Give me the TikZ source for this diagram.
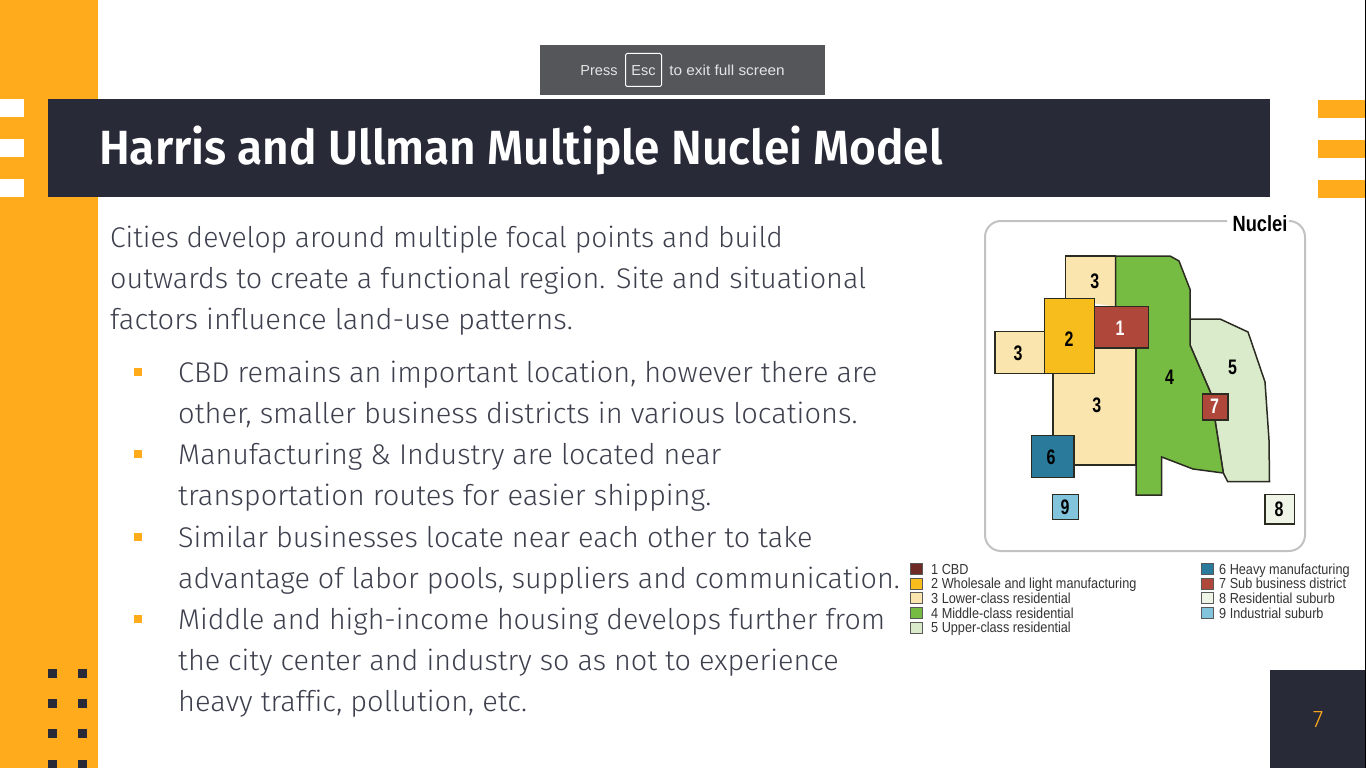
\documentclass[tikz,border=0pt]{standalone}
\usepackage{fontspec}
\setmainfont[Ligatures=NoCommon]{Fira Sans Light}
\newfontfamily\titlefont{Fira Sans SemiBold}
\newfontfamily\armfont{Liberation Sans}
\definecolor{amber}{HTML}{FFAB1C}
\definecolor{navy}{HTML}{282A38}
\definecolor{bodyink}{HTML}{3D3F4D}
\definecolor{barink}{HTML}{54565A}
\definecolor{cbd}{HTML}{6F2B25}
\definecolor{wholesale}{HTML}{F6BD1C}
\definecolor{lower}{HTML}{FBE5AE}
\definecolor{middle}{HTML}{76BC43}
\definecolor{upper}{HTML}{DAEBCB}
\definecolor{heavy}{HTML}{2A7B9B}
\definecolor{subbiz}{HTML}{B0473B}
\definecolor{suburb}{HTML}{EFF5E6}
\definecolor{indust}{HTML}{82C4DC}
\definecolor{edge}{HTML}{2B2B22}
\tikzset{
  bodyline/.style={anchor=base west,inner sep=0pt,text=bodyink,font=\fontsize{28.5}{30}\selectfont},
  region/.style={draw=edge,line width=1.5pt,line join=miter},
  digit/.style={inner sep=0pt,font=\armfont\bfseries\fontsize{21}{21}\selectfont,xscale=.76},
  swatch/.style={draw=black!65,line width=.9pt},
  keytext/.style={anchor=base west,inner sep=0pt,text=black!80,font=\armfont\fontsize{14.5}{15}\selectfont,xscale=.875},
  chrometext/.style={anchor=base,inner sep=0pt,text=white!90!black,font=\armfont\fontsize{14.5}{15}\selectfont},
}
\begin{document}
\begin{tikzpicture}[x=1pt,y=-1pt]
\useasboundingbox (0,0) rectangle (1366,768);
% page furniture
\fill [amber] (0,0) rectangle (97.5,768);
\foreach \y in {99,139,179} \fill [white] (0,\y) rectangle (23.5,\y+17.5);
\foreach \y in {100,140,180} \fill [amber] (1318,\y) rectangle (1366,\y+17.5);
\fill [navy] (48,99) rectangle (1270,196.5);
\fill [navy] (1269.5,670) rectangle (1366,768);
\fill [black] (1365,0) rectangle (1366,768);
\foreach \y in {669,699,729,760} {
  \fill [navy] (48,\y) rectangle (57,\y+9);
  \fill [navy] (78.3,\y) rectangle (87.3,\y+9);
}
\node [anchor=base west,inner sep=0pt,text=white,xscale=.958,font=\titlefont\fontsize{48}{50}\selectfont] (title) at (99,164) {Harris and Ullman Multiple Nuclei Model};
\node [inner sep=0pt,text=amber,font=\fontsize{24}{24}\selectfont] (pagenum) at (1318,720) {7};
% full screen notice
\fill [barink] (540,45) rectangle (825,95);
\draw [white,line width=1pt,rounded corners=1.5pt] (625.5,53.5) rectangle (661.5,86.5);
\node [chrometext] (press) at (599,75) {Press};
\node [chrometext] (esc) at (643.5,75) {Esc};
\node [chrometext,xscale=1.06] (exit) at (727,75) {to exit full screen};
% body text
\node [bodyline,xscale=.991] (l1) at (110,247) {Cities develop around multiple focal points and build};
\node [bodyline,xscale=1.009] (l2) at (110,288) {outwards to create a functional region. Site and situational};
\node [bodyline,xscale=1.02] (l3) at (110,329) {factors influence land-use patterns.};
\node [bodyline,xscale=1.013] (l4) at (178,382) {CBD remains an important location, however there are};
\node [bodyline,xscale=1.018] (l5) at (178,423) {other, smaller business districts in various locations.};
\node [bodyline,xscale=1.006] (l6) at (178,464) {Manufacturing \& Industry are located near};
\node [bodyline,xscale=1.019] (l7) at (178,505) {transportation routes for easier shipping.};
\node [bodyline,xscale=1.01] (l8) at (178,547) {Similar businesses locate near each other to take};
\node [bodyline,xscale=1.008] (l9) at (178,588) {advantage of labor pools, suppliers and communication.};
\node [bodyline,xscale=1.001] (l10) at (178,629) {Middle and high-income housing develops further from};
\node [bodyline,xscale=1.009] (l11) at (178,670) {the city center and industry so as not to experience};
\node [bodyline,xscale=1.017] (l12) at (178,711) {heavy traffic, pollution, etc.};
\foreach \y in {372,454,537,619} \fill [amber] (134,\y-4) rectangle (142,\y+4);
% map frame
\draw [black!24,line width=2pt,rounded corners=16pt] (1227,221) -- (985,221) -- (985,551) -- (1305,551) -- (1305,221) -- (1292,221);
\node [inner sep=0pt,font=\armfont\bfseries\fontsize{22}{22}\selectfont,xscale=.83] (nuclei) at (1260,224) {Nuclei};
% map regions
\filldraw [region,fill=lower] (1065.3,298) -- (1065.3,256) -- (1115.7,256) -- (1115.7,307);
\filldraw [region,fill=upper] (1190,319) -- (1220,319) -- (1248,332) -- (1265,382) -- (1269,440) -- (1269.5,481.7) -- (1227.7,481.7) -- (1223.3,473) -- (1215,420) -- (1210.7,393) -- (1190,345) -- cycle;
\filldraw [region,fill=middle] (1115.7,256) -- (1170,256) -- (1179,261) -- (1190,289.3) -- (1190,345) -- (1210.7,393) -- (1215,420) -- (1223.3,473) -- (1193,469) -- (1161.7,457) -- (1161.7,495) -- (1136,495) -- (1136,348) -- (1115.7,348) -- cycle;
\filldraw [region,fill=lower] (1053,348) rectangle (1136,465);
\filldraw [region,fill=lower] (995,331.7) rectangle (1044.7,373.3);
\filldraw [region,fill=wholesale] (1044.7,298.3) rectangle (1094.7,373.3);
\filldraw [region,fill=subbiz] (1094.7,306.7) rectangle (1148.7,348);
\filldraw [region,fill=heavy] (1031.7,435.7) rectangle (1074,477.7);
\filldraw [region,fill=subbiz] (1202.3,394) rectangle (1228,420);
\filldraw [region,fill=indust] (1052.3,494.3) rectangle (1078.3,519.7);
\filldraw [region,fill=suburb] (1265,494.3) rectangle (1294.7,524);
\node [digit] (d3a) at (1094.7,281) {3};
\node [digit] (d2) at (1069,339.5) {2};
\node [digit,text=white] (d1) at (1120,328) {1};
\node [digit] (d3b) at (1018,353) {3};
\node [digit] (d3c) at (1096.7,405) {3};
\node [digit] (d4) at (1169.5,377.5) {4};
\node [digit] (d5) at (1232.5,367) {5};
\node [digit,text=white] (d7) at (1214.5,406.5) {7};
\node [digit] (d6) at (1051,457) {6};
\node [digit] (d9) at (1065,507) {9};
\node [digit] (d8) at (1279,509) {8};
% legend
\foreach \y/\c/\t [count=\n] in {569/cbd/1 CBD,583.7/wholesale/2 Wholesale and light manufacturing,598.3/lower/3 Lower-class residential,613/middle/4 Middle-class residential,627.7/upper/5 Upper-class residential} {
  \filldraw [swatch,fill=\c] (910.5,\y-5.5) rectangle (922.5,\y+5.5);
  \node [keytext] (keyl\n) at (931,\y+5) {\t};
}
\foreach \y/\c/\t [count=\n] in {569/heavy/6 Heavy manufacturing,583.7/subbiz/7 Sub business district,598.3/suburb/8 Residential suburb,613/indust/9 Industrial suburb} {
  \filldraw [swatch,fill=\c] (1201.5,\y-5.5) rectangle (1213,\y+5.5);
  \node [keytext] (keyr\n) at (1219,\y+5) {\t};
}
\end{tikzpicture}
\end{document}
